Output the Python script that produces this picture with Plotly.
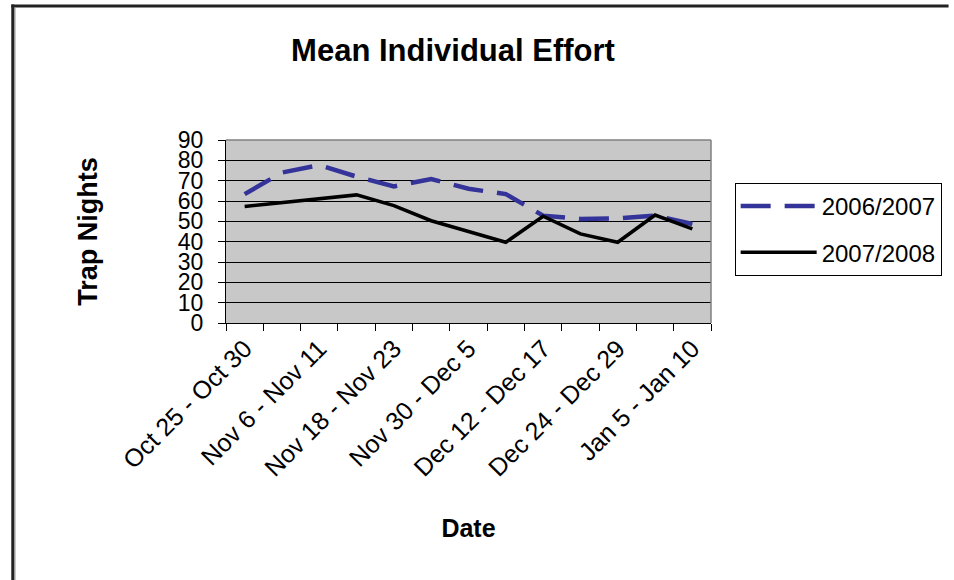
import plotly.graph_objects as go

# Weekly trapping periods (13 six-day blocks)
periods = [
    "Oct 25 - Oct 30", "Oct 31 - Nov 5", "Nov 6 - Nov 11", "Nov 12 - Nov 17",
    "Nov 18 - Nov 23", "Nov 24 - Nov 29", "Nov 30 - Dec 5", "Dec 6 - Dec 11",
    "Dec 12 - Dec 17", "Dec 18 - Dec 23", "Dec 24 - Dec 29", "Dec 30 - Jan 4",
    "Jan 5 - Jan 10",
]
# Only every other period is labelled on the axis
shown_labels = [p if i % 2 == 0 else "" for i, p in enumerate(periods)]

season_0607 = [63.4, 74.0, 77.6, 72.0, 67.2, 70.8, 66.0, 63.4, 52.8, 51.2, 51.5, 52.8, 48.7]
season_0708 = [57.3, 59.3, 61.3, 63.0, 57.7, 50.3, 45.0, 39.7, 52.5, 43.8, 39.7, 53.1, 46.3]

y_ticks = list(range(0, 91, 10))

FONT = "Arial, Liberation Sans, sans-serif"
W, H = 954, 580
ML, MR, MT, MB = 226, 236, 140, 257
PW, PH = W - ML - MR, H - MT - MB


def px_x(p):
    """Pixel column -> paper x."""
    return (p - ML) / PW


def px_y(p):
    """Pixel row -> paper y."""
    return (H - MB - p) / PH


fig = go.Figure()
fig.add_trace(go.Scatter(
    x=periods, y=season_0607, name="2006/2007", mode="lines", legendgroup="s1",
    line=dict(color="#333399", width=4.5, dash="30px,14px"),
))
fig.add_trace(go.Scatter(
    x=periods, y=season_0708, name="2007/2008", mode="lines", legendgroup="s2",
    line=dict(color="#000000", width=3.5),
))

fig.update_layout(
    width=W, height=H,
    margin=dict(l=ML, r=MR, t=MT, b=MB),
    paper_bgcolor="white",
    plot_bgcolor="#C8C8C8",
    font=dict(family=FONT, color="black", size=24),
    title=dict(
        text="<b>Mean Individual Effort</b>",
        font=dict(size=31, family=FONT, color="black"),
        x=453 / W, xanchor="center", xref="container",
        y=1 - 50 / H, yanchor="middle", yref="container",
    ),
    showlegend=True,
    legend=dict(
        x=px_x(742), y=px_y(183), xanchor="left", yanchor="top",
        bordercolor="black", borderwidth=1, bgcolor="white",
        font=dict(size=24, family=FONT, color="black"),
        traceorder="grouped", tracegroupgap=12, itemwidth=76,
    ),
    xaxis=dict(
        type="category",
        tickmode="array", tickvals=periods, ticktext=shown_labels,
        tickson="boundaries", ticks="outside", ticklen=7, tickcolor="black",
        tickangle=-45, tickfont=dict(size=25, family=FONT, color="black"),
        showline=True, linecolor="black", linewidth=1,
        showgrid=False, zeroline=False, mirror=False,
        range=[-0.5, len(periods) - 0.5],
        title=dict(text="<b>Date</b>", font=dict(size=25, family=FONT, color="black"), standoff=38),
    ),
    yaxis=dict(
        range=[0, 90], tickmode="array", tickvals=y_ticks,
        ticks="outside", ticklen=7, tickcolor="black", ticklabelstandoff=10,
        tickfont=dict(size=23, family=FONT, color="black"),
        showline=True, linecolor="black", linewidth=1,
        showgrid=True, gridcolor="black", gridwidth=1, zeroline=False,
        title=dict(text="<b>Trap Nights</b>", font=dict(size=27, family=FONT, color="black"), standoff=72),
    ),
)

# Gray border on the top and right of the plotting area
fig.add_shape(type="line", xref="paper", yref="paper", x0=0, x1=1, y0=1, y1=1,
              line=dict(color="#808080", width=1.5))
fig.add_shape(type="line", xref="paper", yref="paper", x0=1, x1=1, y0=0, y1=1,
              line=dict(color="#808080", width=1.5))

# Outer chart frame (left and top edges)
fig.add_shape(type="line", xref="paper", yref="paper",
              x0=px_x(9.7), x1=px_x(9.7), y0=px_y(4.5), y1=px_y(H + 5),
              line=dict(color="#222222", width=3))
fig.add_shape(type="line", xref="paper", yref="paper",
              x0=px_x(8.2), x1=px_x(W + 5), y0=px_y(6), y1=px_y(6),
              line=dict(color="#222222", width=3))
fig.add_shape(type="line", xref="paper", yref="paper",
              x0=px_x(11.8), x1=px_x(11.8), y0=px_y(7.5), y1=px_y(H + 5),
              line=dict(color="#8a8a8a", width=1.2))

fig.write_html("out.html")
